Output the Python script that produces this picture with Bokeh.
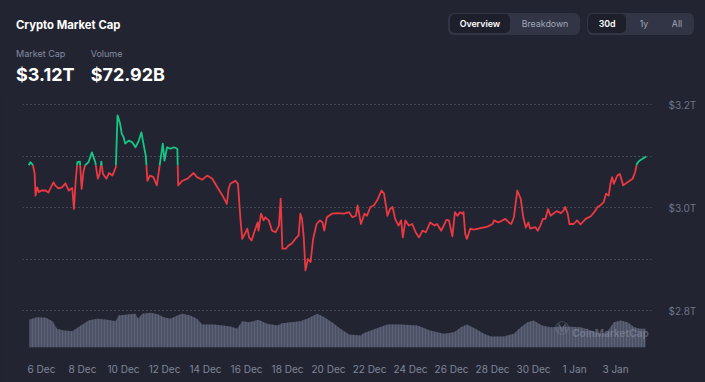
from bokeh.plotting import figure
from bokeh.models import Range1d, FixedTicker, PrintfTickFormatter, Label, Div
from bokeh.layouts import column
from bokeh.embed import file_html
from bokeh.resources import INLINE

BG = "#222531"
FONT = "Inter"
RED = "#ea3943"
GREEN = "#16c784"

title_text = "Crypto Market Cap"
stat_labels = ["Market Cap", "Volume"]
stat_values = ["$3.12T", "$72.92B"]
view_buttons = ["Overview", "Breakdown"]
range_buttons = ["30d", "1y", "All"]

# hours since 5 Dec 2024 00:00
cap_hours = [9, 11, 14, 16, 17, 19, 21, 24, 29, 32, 35, 38, 40, 44, 48, 52, 56, 60, 62, 64,
             66, 69, 71, 73, 75, 79, 83, 87, 90, 92, 94, 96, 100, 103, 107, 111, 113, 116, 118, 120,
             122, 126, 130, 134, 138, 141, 143, 146, 147, 148, 151, 155, 159, 162, 166, 168, 171, 175, 179, 183,
             184, 189, 195, 202, 206, 212, 218, 224, 230, 236, 241, 243, 245, 251, 254, 257, 259, 263, 265, 267,
             270, 273, 277, 278, 281, 284, 286, 290, 294, 298, 302, 304, 306, 310, 313, 317, 321, 325, 327, 329,
             331, 333, 336, 339, 342, 346, 350, 353, 355, 358, 364, 370, 378, 384, 388, 392, 394, 398, 402, 405,
             409, 413, 417, 422, 425, 429, 432, 435, 438, 442, 445, 447, 450, 454, 458, 462, 466, 470, 474, 479,
             484, 487, 492, 498, 501, 505, 508, 511, 514, 517, 518, 520, 522, 526, 530, 538, 546, 552, 554, 559,
             567, 571, 574, 577, 581, 585, 588, 591, 594, 596, 602, 605, 608, 611, 614, 617, 620, 623, 627, 632,
             635, 637, 640, 642, 647, 651, 655, 661, 667, 671, 675, 678, 682, 685, 688, 690, 692, 694, 698, 701,
             705, 710, 716, 719, 721, 724, 728, 732]
# total crypto market cap, $T
cap_values = [3.082, 3.088, 3.082, 3.066, 3.023, 3.039, 3.030, 3.033, 3.033, 3.029, 3.039, 3.049, 3.043, 3.037, 3.039, 3.047, 3.033, 3.038, 2.997, 3.052,
              3.088, 3.089, 3.036, 3.069, 3.082, 3.088, 3.107, 3.088, 3.056, 3.065, 3.089, 3.065, 3.056, 3.067, 3.062, 3.078, 3.179, 3.163, 3.143, 3.137,
              3.124, 3.130, 3.127, 3.117, 3.130, 3.146, 3.127, 3.101, 3.078, 3.052, 3.062, 3.059, 3.043, 3.078, 3.124, 3.091, 3.117, 3.114, 3.117, 3.114,
              3.043, 3.052, 3.056, 3.067, 3.059, 3.054, 3.062, 3.056, 3.039, 3.023, 3.007, 3.036, 3.046, 3.052, 3.046, 2.975, 2.939, 2.952, 2.959, 2.942,
              2.936, 2.952, 2.971, 2.955, 2.988, 2.975, 2.981, 2.975, 2.955, 2.952, 2.965, 3.017, 2.920, 2.920, 2.926, 2.930, 2.939, 2.946, 2.988, 2.978,
              2.942, 2.878, 2.900, 2.894, 2.939, 2.968, 2.975, 2.971, 2.955, 2.981, 2.988, 2.989, 2.988, 2.991, 2.981, 2.984, 3.004, 2.968, 2.988, 2.984,
              3.001, 3.004, 3.014, 3.033, 3.027, 2.984, 2.997, 3.001, 2.978, 2.965, 2.975, 2.942, 2.975, 2.965, 2.968, 2.952, 2.942, 2.955, 2.952, 2.971,
              2.965, 2.968, 2.955, 2.976, 2.975, 2.944, 2.991, 2.984, 2.991, 2.988, 2.991, 2.949, 2.939, 2.959, 2.957, 2.960, 2.963, 2.968, 2.975, 2.971,
              2.978, 2.971, 2.968, 2.981, 3.033, 3.017, 2.981, 2.961, 2.971, 2.959, 2.962, 2.955, 2.965, 2.978, 2.978, 2.997, 2.984, 2.988, 2.993, 2.989,
              2.994, 3.001, 2.988, 2.968, 2.968, 2.975, 2.967, 2.978, 2.983, 2.991, 3.001, 3.004, 3.010, 3.027, 3.023, 3.046, 3.059, 3.046, 3.062, 3.065,
              3.043, 3.049, 3.056, 3.069, 3.085, 3.091, 3.095, 3.099]

# 24h volume, $B
vol_hours = [10, 19, 29, 37, 42, 50, 60, 70, 79, 89, 101, 111, 114, 124, 134, 137, 142, 152, 161, 167,
             175, 183, 189, 198, 206, 212, 226, 236, 245, 253, 259, 267, 278, 288, 300, 306, 316, 327, 335, 347,
             355, 364, 374, 384, 398, 401, 415, 429, 444, 464, 479, 495, 507, 515, 522, 532, 542, 550, 565, 577,
             585, 593, 600, 610, 620, 635, 655, 667, 678, 686, 694, 702, 710, 718, 725, 731]
vol_values = [112, 121, 119, 105, 75, 68, 65, 88, 108, 115, 111, 105, 128, 132, 135, 115, 135, 139, 132, 121,
              115, 128, 135, 128, 115, 92, 92, 88, 84, 75, 105, 101, 111, 95, 88, 97, 101, 105, 115, 135,
              121, 101, 75, 52, 48, 57, 75, 92, 92, 88, 68, 55, 61, 81, 92, 75, 55, 44, 44, 55,
              81, 101, 108, 88, 81, 84, 81, 68, 55, 61, 101, 108, 101, 81, 75, 75]

tick_hours = [24, 72, 120, 168, 216, 264, 312, 360, 408, 456, 504, 552, 600, 648, 696]
tick_labels = ["6 Dec", "8 Dec", "10 Dec", "12 Dec", "14 Dec", "16 Dec", "18 Dec", "20 Dec",
               "22 Dec", "24 Dec", "26 Dec", "28 Dec", "30 Dec", "1 Jan", "3 Jan"]
y_ticks = [2.8, 3.0, 3.2]
grid_values = [2.8, 2.9, 3.0, 3.1, 3.2]

assert len(cap_hours) == len(cap_values)
assert len(vol_hours) == len(vol_values)

W = 705
HDR_H = 90
MAIN_H = 292
FL, FR, FB = 22, 54, 35   # borders around the plotting frame


# ---------------- header (HTML) ----------------
def span(left, baseline, size, text, color, weight=400):
    top = baseline - 0.864 * size
    return (f'<span style="position:absolute;left:{left}px;top:{top:.1f}px;font-size:{size}px;'
            f'line-height:{size}px;color:{color};font-weight:{weight};white-space:nowrap;">{text}</span>')


def btn(left, right, top, bottom, text, color, bg, weight, radius, size):
    return (f'<div style="position:absolute;left:{left}px;top:{top}px;width:{right - left:.1f}px;'
            f'height:{bottom - top:.1f}px;background:{bg};border-radius:{radius}px;display:flex;'
            f'align-items:center;justify-content:center;font-size:{size}px;color:{color};'
            f'font-weight:{weight};white-space:nowrap;">{text}</div>')


parts = [
    span(16, 30, 11.3, title_text, "#ffffff", 700),
    span(16, 56.7, 9, stat_labels[0], "#858ca2"),
    span(90.7, 56.7, 9, stat_labels[1], "#858ca2"),
    span(16, 81.7, 18, stat_values[0], "#ffffff", 700),
    span(90.7, 81.7, 18, stat_values[1], "#ffffff", 700),
    btn(448.3, 580, 12.7, 35, "", "#ffffff", "#323546", 400, 6, 9),
    btn(586.7, 694, 12.7, 35, "", "#ffffff", "#323546", 400, 6, 9),
    btn(449.8, 510, 14.2, 33.5, view_buttons[0], "#ffffff", "#1d1f2b", 600, 5, 8.8),
    btn(510, 580, 14.2, 33.5, view_buttons[1], "#a1a7bb", "transparent", 400, 5, 8.8),
    btn(588.2, 626, 14.2, 33.5, range_buttons[0], "#ffffff", "#1d1f2b", 600, 5, 8.8),
    btn(626, 662, 14.2, 33.5, range_buttons[1], "#a1a7bb", "transparent", 400, 5, 8.8),
    btn(662, 692, 14.2, 33.5, range_buttons[2], "#a1a7bb", "transparent", 400, 5, 8.8),
]

header_html = (f'<div style="position:relative;width:{W}px;height:{HDR_H}px;background:{BG};'
               f'font-family:Inter, sans-serif;overflow:hidden;">' + "".join(parts) + '</div>')
header = Div(text=header_html, width=W, height=HDR_H, styles={"background-color": BG, "margin": "0"})

# ---------------- main chart ----------------
p = figure(width=W, height=MAIN_H, x_range=Range1d(1.76, 738.1), y_range=Range1d(2.7282, 3.2272),
           y_axis_location="right", output_backend="svg", toolbar_location=None,
           min_border_left=FL, min_border_right=FR, min_border_top=0, min_border_bottom=FB,
           background_fill_color=BG, border_fill_color=BG, outline_line_color=None)
p.extra_y_ranges = {"vol": Range1d(0, 1028)}

p.xgrid.visible = False
p.ygrid.ticker = FixedTicker(ticks=grid_values)
p.ygrid.grid_line_color = "#6b6f80"
p.ygrid.grid_line_dash = "1 3"
p.ygrid.grid_line_width = 1

for ax in (p.xaxis[0], p.yaxis[0]):
    ax.axis_line_color = None
    ax.major_tick_line_color = None
    ax.minor_tick_line_color = None
    ax.major_label_text_font = FONT
    ax.major_label_text_font_size = "10px"

p.xaxis.ticker = FixedTicker(ticks=tick_hours)
p.xaxis.major_label_overrides = {h: lab for h, lab in zip(tick_hours, tick_labels)}
p.xaxis.major_label_text_color = "#80869a"
p.xaxis.major_label_standoff = 9

p.yaxis.ticker = FixedTicker(ticks=y_ticks)
p.yaxis.formatter = PrintfTickFormatter(format="$%.1fT")
p.yaxis.major_label_text_color = "#6f7487"
p.yaxis.major_label_standoff = 11

# volume
p.varea(x=vol_hours, y1=0, y2=vol_values, y_range_name="vol", fill_color="#4d5266",
        hatch_pattern="|", hatch_color="#60657a", hatch_scale=3, hatch_weight=1, hatch_alpha=0.8)

# split the line into green (above first value) and red (below) runs
base = cap_values[0]
runs = {True: [], False: []}
cur_x, cur_y = [cap_hours[0]], [cap_values[0]]
cur_up = cap_values[0] >= base
for i in range(1, len(cap_values)):
    x0, y0 = cap_hours[i - 1], cap_values[i - 1]
    x1, y1 = cap_hours[i], cap_values[i]
    up = y1 >= base
    if up == cur_up:
        cur_x.append(x1); cur_y.append(y1)
    else:
        xc = x0 + (base - y0) / (y1 - y0) * (x1 - x0)
        cur_x.append(xc); cur_y.append(base)
        runs[cur_up].append((cur_x, cur_y))
        cur_x, cur_y = [xc, x1], [base, y1]
        cur_up = up
runs[cur_up].append((cur_x, cur_y))

for up, color in ((False, RED), (True, GREEN)):
    xs = [r[0] for r in runs[up]]
    ys = [r[1] for r in runs[up]]
    p.multi_line(xs=xs, ys=ys, line_color=color, line_width=1.8, line_join="round")

# watermark (screen units relative to the frame's bottom-left corner)
FRAME_BOTTOM_PAGE = HDR_H + MAIN_H - FB
p.add_layout(Label(x=561.7 - FL, y=FRAME_BOTTOM_PAGE - 327.5, x_units="screen", y_units="screen",
                   text="Ⓜ", text_font="DejaVu Sans", text_font_size="14px", text_color="#9a9fb0",
                   text_alpha=0.45, text_align="center", text_baseline="middle"))
p.add_layout(Label(x=571.7 - FL, y=FRAME_BOTTOM_PAGE - 332.5, x_units="screen", y_units="screen",
                   text="CoinMarketCap", text_font=FONT, text_font_size="10px", text_font_style="bold",
                   text_color="#9a9fb0", text_alpha=0.45, text_baseline="alphabetic"))

layout = column(header, p, spacing=0, styles={"background-color": BG})
open("out.html", "w").write(file_html(layout, INLINE))
